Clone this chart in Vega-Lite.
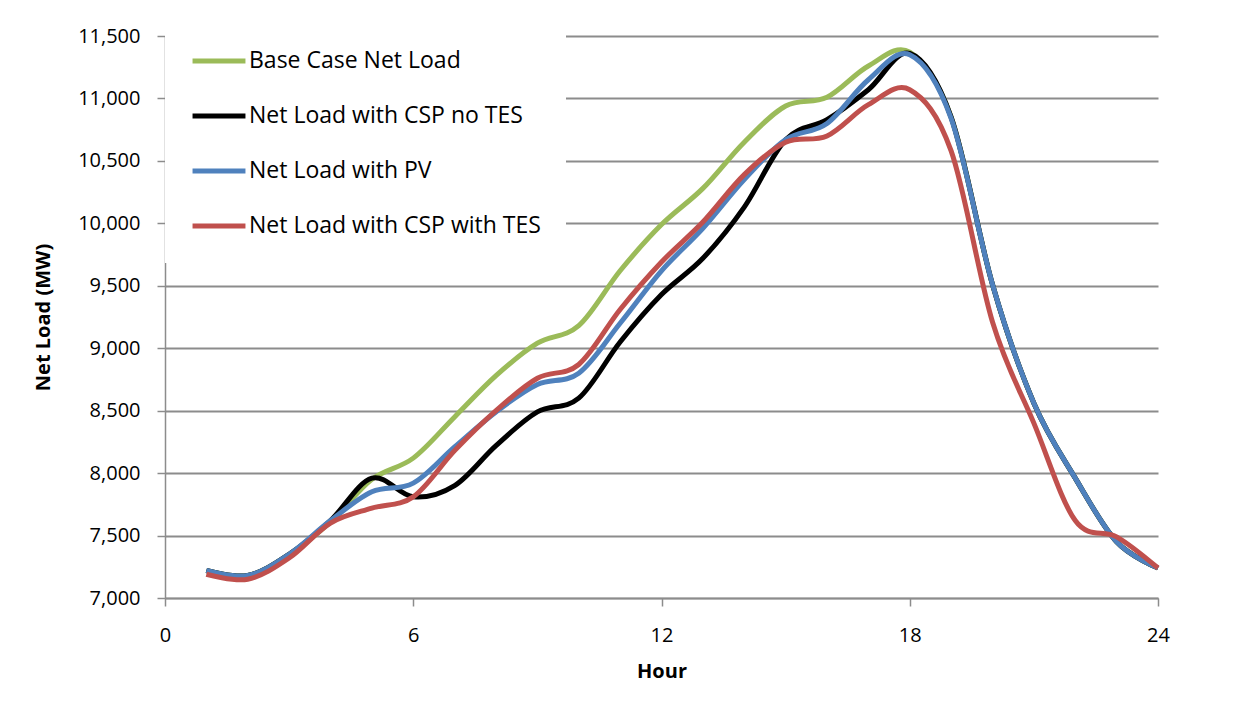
{
  "$schema": "https://vega.github.io/schema/vega-lite/v6.json",
  "width": 993,
  "height": 562,
  "autosize": {"type": "none"},
  "padding": {"left": 165, "top": 36, "right": 91, "bottom": 115},
  "background": "white",
  "config": {
    "font": "Open Sans",
    "view": {"stroke": null},
    "axis": {
      "labelFont": "Open Sans",
      "labelFontSize": 20,
      "labelColor": "#000000",
      "titleFont": "Open Sans",
      "titleFontSize": 20,
      "titleFontWeight": "bold",
      "titleColor": "#000000",
      "domainColor": "#8c8c8c",
      "domainWidth": 1.5,
      "tickColor": "#8c8c8c",
      "tickWidth": 1.5,
      "tickSize": 8,
      "gridColor": "#8c8c8c",
      "gridWidth": 2
    }
  },
  "data": {
    "values": [
      {"hour": 1, "Base Case Net Load": 7220, "Net Load with CSP no TES": 7220, "Net Load with PV": 7220, "Net Load with CSP with TES": 7190},
      {"hour": 2, "Base Case Net Load": 7180, "Net Load with CSP no TES": 7180, "Net Load with PV": 7180, "Net Load with CSP with TES": 7150},
      {"hour": 3, "Base Case Net Load": 7350, "Net Load with CSP no TES": 7350, "Net Load with PV": 7350, "Net Load with CSP with TES": 7320},
      {"hour": 4, "Base Case Net Load": 7610, "Net Load with CSP no TES": 7620, "Net Load with PV": 7620, "Net Load with CSP with TES": 7600},
      {"hour": 5, "Base Case Net Load": 7950, "Net Load with CSP no TES": 7960, "Net Load with PV": 7850, "Net Load with CSP with TES": 7720},
      {"hour": 6, "Base Case Net Load": 8120, "Net Load with CSP no TES": 7810, "Net Load with PV": 7920, "Net Load with CSP with TES": 7810},
      {"hour": 7, "Base Case Net Load": 8450, "Net Load with CSP no TES": 7900, "Net Load with PV": 8210, "Net Load with CSP with TES": 8180},
      {"hour": 8, "Base Case Net Load": 8780, "Net Load with CSP no TES": 8220, "Net Load with PV": 8490, "Net Load with CSP with TES": 8500},
      {"hour": 9, "Base Case Net Load": 9040, "Net Load with CSP no TES": 8490, "Net Load with PV": 8710, "Net Load with CSP with TES": 8760},
      {"hour": 10, "Base Case Net Load": 9180, "Net Load with CSP no TES": 8600, "Net Load with PV": 8800, "Net Load with CSP with TES": 8870},
      {"hour": 11, "Base Case Net Load": 9620, "Net Load with CSP no TES": 9050, "Net Load with PV": 9200, "Net Load with CSP with TES": 9310},
      {"hour": 12, "Base Case Net Load": 9990, "Net Load with CSP no TES": 9430, "Net Load with PV": 9620, "Net Load with CSP with TES": 9690},
      {"hour": 13, "Base Case Net Load": 10280, "Net Load with CSP no TES": 9720, "Net Load with PV": 9960, "Net Load with CSP with TES": 10010},
      {"hour": 14, "Base Case Net Load": 10650, "Net Load with CSP no TES": 10130, "Net Load with PV": 10350, "Net Load with CSP with TES": 10390},
      {"hour": 15, "Base Case Net Load": 10940, "Net Load with CSP no TES": 10670, "Net Load with PV": 10670, "Net Load with CSP with TES": 10650},
      {"hour": 16, "Base Case Net Load": 11010, "Net Load with CSP no TES": 10830, "Net Load with PV": 10800, "Net Load with CSP with TES": 10700},
      {"hour": 17, "Base Case Net Load": 11260, "Net Load with CSP no TES": 11070, "Net Load with PV": 11150, "Net Load with CSP with TES": 10950},
      {"hour": 18, "Base Case Net Load": 11370, "Net Load with CSP no TES": 11360, "Net Load with PV": 11350, "Net Load with CSP with TES": 11070},
      {"hour": 19, "Base Case Net Load": 10850, "Net Load with CSP no TES": 10850, "Net Load with PV": 10840, "Net Load with CSP with TES": 10580},
      {"hour": 20, "Base Case Net Load": 9510, "Net Load with CSP no TES": 9510, "Net Load with PV": 9510, "Net Load with CSP with TES": 9210},
      {"hour": 21, "Base Case Net Load": 8560, "Net Load with CSP no TES": 8560, "Net Load with PV": 8560, "Net Load with CSP with TES": 8400},
      {"hour": 22, "Base Case Net Load": 7960, "Net Load with CSP no TES": 7960, "Net Load with PV": 7960, "Net Load with CSP with TES": 7620},
      {"hour": 23, "Base Case Net Load": 7450, "Net Load with CSP no TES": 7450, "Net Load with PV": 7450, "Net Load with CSP with TES": 7490},
      {"hour": 24, "Base Case Net Load": 7240, "Net Load with CSP no TES": 7240, "Net Load with PV": 7240, "Net Load with CSP with TES": 7240}
    ]
  },
  "transform": [
    {"fold": ["Base Case Net Load", "Net Load with CSP no TES", "Net Load with PV", "Net Load with CSP with TES"], "as": ["series", "mw"]}
  ],
  "encoding": {
    "x": {
      "field": "hour",
      "type": "quantitative",
      "title": "Hour",
      "scale": {"domain": [0, 24], "nice": false},
      "axis": {"values": [0, 6, 12, 18, 24], "grid": false, "labelPadding": 19, "titlePadding": 16, "labelFlush": false}
    },
    "y": {
      "field": "mw",
      "type": "quantitative",
      "title": "Net Load (MW)",
      "scale": {"domain": [7000, 11500], "nice": false, "zero": false},
      "axis": {"values": [7000, 7500, 8000, 8500, 9000, 9500, 10000, 10500, 11000, 11500], "format": ",d", "labelPadding": 17, "titlePadding": 24}
    },
    "color": {
      "field": "series",
      "type": "nominal",
      "scale": {
        "domain": ["Base Case Net Load", "Net Load with CSP no TES", "Net Load with PV", "Net Load with CSP with TES"],
        "range": ["#9BBB59", "#000000", "#4F81BD", "#C0504D"]
      },
      "legend": {
        "title": null,
        "orient": "none",
        "legendX": 0,
        "legendY": -29,
        "padding": 25,
        "fillColor": "white",
        "symbolType": "stroke",
        "symbolSize": 2800,
        "symbolStrokeWidth": 5,
        "labelFont": "Open Sans",
        "labelFontSize": 23,
        "labelColor": "#000000",
        "labelOffset": 1,
        "rowPadding": 14,
        "labelLimit": 400
      }
    }
  },
  "layer": [
    {"transform": [{"filter": "datum.series === 'Base Case Net Load'"}], "mark": {"type": "line", "interpolate": "cardinal", "strokeWidth": 5}},
    {"transform": [{"filter": "datum.series === 'Net Load with CSP no TES'"}], "mark": {"type": "line", "interpolate": "cardinal", "strokeWidth": 5}},
    {"transform": [{"filter": "datum.series === 'Net Load with PV'"}], "mark": {"type": "line", "interpolate": "cardinal", "strokeWidth": 5}},
    {"transform": [{"filter": "datum.series === 'Net Load with CSP with TES'"}], "mark": {"type": "line", "interpolate": "cardinal", "strokeWidth": 5}}
  ]
}
